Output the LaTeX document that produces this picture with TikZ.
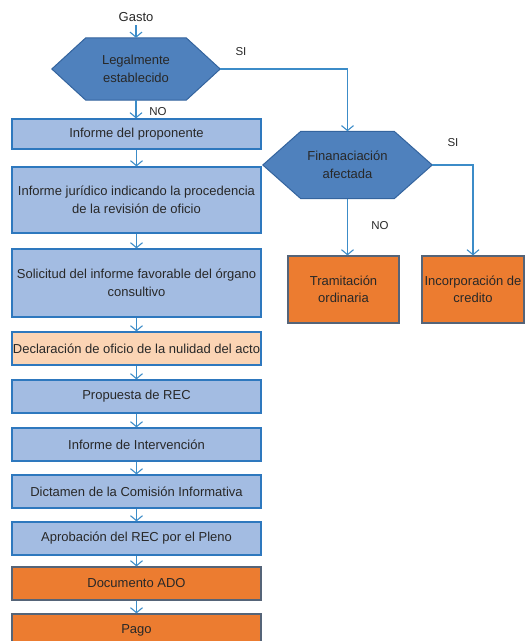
\documentclass[tikz,border=0pt]{standalone}
\usepackage{fontspec}
\setmainfont{Liberation Sans}
\usepackage{tikz}
\usetikzlibrary{arrows.meta, backgrounds}

\definecolor{hexfill}{RGB}{79,129,189}
\definecolor{hexline}{RGB}{52,100,158}
\definecolor{boxfill}{RGB}{163,188,226}
\definecolor{boxline}{RGB}{46,120,190}
\definecolor{orangefill}{RGB}{236,124,48}
\definecolor{orangeline}{RGB}{85,100,120}
\definecolor{peachfill}{RGB}{251,212,180}
\definecolor{flowline}{RGB}{60,140,200}
\definecolor{txtgray}{RGB}{40,40,40}

% hexagon behind a decision node: #1 = node, #2 = chamfer
\newcommand{\hexback}[2]{%
	\draw [hexdraw] (#1.west) -- ([xshift=#2]#1.north west) -- ([xshift=-#2]#1.north east)
		-- (#1.east) -- ([xshift=-#2]#1.south east) -- ([xshift=#2]#1.south west) -- cycle;}

\begin{document}
\begin{tikzpicture}[
		x = 1pt, y = -1pt,
		every node/.style = {text = txtgray, font = \fontsize{13}{17.5}\selectfont, align = center},
		proc/.style = {rectangle, draw = boxline, fill = boxfill, line width = 1.2pt,
			inner xsep = 0.5pt, minimum width = 249pt},
		procpeach/.style = {proc, fill = peachfill},
		procorange/.style = {proc, draw = orangeline, fill = orangefill},
		decision/.style = {rectangle, inner sep = 0pt},
		hexdraw/.style = {draw = hexline, fill = hexfill, line width = 1pt, line join = miter},
		flow/.style = {draw = flowline, line width = 1.1pt, -{Straight Barb[length = 5pt, width = 12pt]}}
		]
		\useasboundingbox (0,0) rectangle (526,641);
		% Main column
		\node (gasto) at (136,17) {Gasto};
		\node [decision, minimum width = 168pt, minimum height = 62pt] (legal) at (136,69) {Legalmente\\establecido};
		\node [proc, minimum height = 30pt] (prop) at (136.5,134) {Informe del proponente};
		\node [proc, minimum height = 66pt] (jur) at (136.5,200) {Informe jurídico indicando la procedencia\\de la revisión de oficio};
		\node [proc, minimum height = 68pt] (sol) at (136.5,283) {Solicitud del informe favorable del órgano\\consultivo};
		\node [procpeach, minimum height = 33pt] (decl) at (136.5,348.5) {Declaración de oficio de la nulidad del acto};
		\node [proc, minimum height = 33pt] (rec) at (136.5,396.5) {Propuesta de REC};
		\node [proc, minimum height = 33pt] (interv) at (136.5,444.5) {Informe de Intervención};
		\node [proc, minimum height = 33pt] (dict) at (136.5,491.5) {Dictamen de la Comisión Informativa};
		\node [proc, minimum height = 33pt] (aprob) at (136.5,538.5) {Aprobación del REC por el Pleno};
		\node [procorange, minimum height = 33pt] (ado) at (136.5,583.5) {Documento ADO};
		\node [procorange, minimum height = 33pt] (pago) at (136.5,630.5) {Pago};
		% Right branch
		\node [decision, minimum width = 169pt, minimum height = 67pt] (fin) at (347.5,165) {Finanaciación\\afectada};
		\node [procorange, minimum width = 111pt, minimum height = 67pt] (tram) at (343.5,289.5) {Tramitación\\ordinaria};
		\node [procorange, minimum width = 102pt, minimum height = 67pt] (inc) at (473,289.5) {Incorporación de\\credito};
		% Hexagons
		\begin{scope}[on background layer]
			\hexback{legal}{34pt}
			\hexback{fin}{38pt}
		\end{scope}
		% Connectors
		\draw [flow] (gasto) -- (legal.north);
		\draw [flow] (legal.south) -- (legal.south |- prop.north);
		\draw [flow] (prop) -- (jur);
		\draw [flow] (jur) -- (sol);
		\draw [flow] (sol) -- (decl);
		\draw [flow] (decl) -- (rec);
		\draw [flow] (rec) -- (interv);
		\draw [flow] (interv) -- (dict);
		\draw [flow] (dict) -- (aprob);
		\draw [flow] (aprob) -- (ado);
		\draw [flow] (ado) -- (pago);
		\draw [flow] (legal.east) -| (fin.north);
		\draw [flow] (fin.south) -- (fin.south |- tram.north);
		\draw [flow] (fin.east) -| (inc.north);
		% Labels
		\begin{scope}[nodes = {font = \fontsize{11.5}{13}\selectfont}]
			\node (si1) at (241,52) {SI};
			\node (no1) at (158,112) {NO};
			\node (si2) at (453,143) {SI};
			\node (no2) at (380,226) {NO};
		\end{scope}
	\end{tikzpicture}
\end{document}
